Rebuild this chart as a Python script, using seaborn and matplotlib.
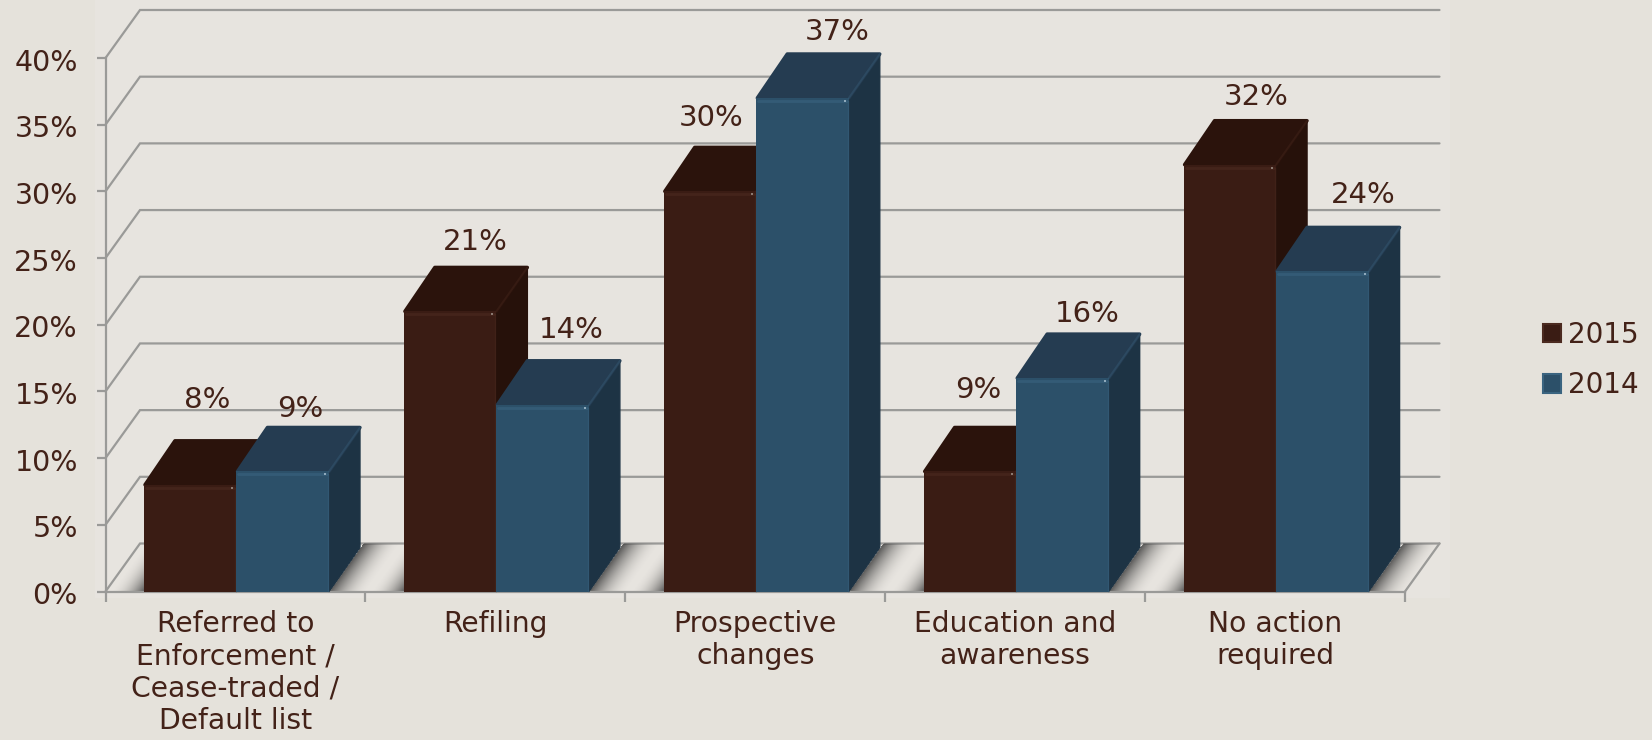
import numpy as np
import pandas as pd
import matplotlib
matplotlib.use("Agg")
import matplotlib.pyplot as plt
from matplotlib.patches import Polygon, Rectangle
from matplotlib.transforms import ScaledTranslation
import seaborn as sns

# Chart content
categories = [
    "Referred to\nEnforcement /\nCease-traded /\nDefault list",
    "Refiling",
    "Prospective\nchanges",
    "Education and\nawareness",
    "No action\nrequired",
]
years = ["2015", "2014"]
share_2015 = [8, 21, 30, 9, 32]
share_2014 = [9, 14, 37, 16, 24]
y_ticks = [0, 5, 10, 15, 20, 25, 30, 35, 40]

# Styling
PAGE = "#E5E2DB"
PANEL = "#E7E4DF"
TEXT = "#432218"
GRID = "#9A9A98"
FRONT = {"2015": "#3A1C14", "2014": "#2C5069"}
SIDE = {"2015": "#26110A", "2014": "#1D3344"}
TOP = {"2015": "#2B130C", "2014": "#253C51"}
EDGE = {"2015": "#4B2A20", "2014": "#3A6480"}
GLINT = {"2015": "#8A7A72", "2014": "#8FAABC"}

W, H = 1652, 740
AX_L, AX_R, AX_T, AX_B = 105.5, 1405.0, 58.0, 591.5
PX_X = (AX_R - AX_L) / 5      # pixels per category
PX_Y = (AX_B - AX_T) / 40     # pixels per percentage point
BAR_DX, BAR_DY = 31 / PX_X, 44 / PX_Y     # depth of a bar
WALL_DX, WALL_DY = 34.5 / PX_X, 48 / PX_Y  # depth of the chart walls
BAR_NUDGE = 1.0 / PX_X        # bars sit slightly right of the category centre

# Offsets of the value labels from the top centre of each bar, in pixels
label_offsets_2015 = [(17, 85), (25, 69), (1, 73), (8, 81), (26, 68)]
label_offsets_2014 = [(18, 62), (29, 75), (35, 66), (25, 64), (41, 76)]

sns.set_theme(style="white")
plt.rcParams["font.family"] = ["DejaVu Sans"]

fig = plt.figure(figsize=(W / 100, H / 100), dpi=100, facecolor=PAGE)
fig.patches.append(Rectangle((95 / W, 1 - 598 / H), 1355 / W, 598 / H,
                             transform=fig.transFigure, facecolor=PANEL,
                             edgecolor="none", zorder=-10))
ax = fig.add_axes([AX_L / W, 1 - AX_B / H, (AX_R - AX_L) / W, (AX_B - AX_T) / H])
ax.patch.set_alpha(0)

table = pd.DataFrame({
    "category": categories * 2,
    "year": [years[0]] * 5 + [years[1]] * 5,
    "share": share_2015 + share_2014,
})
sns.barplot(data=table, x="category", y="share", hue="year", hue_order=years,
            order=categories, palette=FRONT, saturation=1, width=0.712, gap=0,
            linewidth=0, ax=ax)
for container in ax.containers:
    for bar in container:
        bar.set_x(bar.get_x() + BAR_NUDGE)

ax.set_xlim(-0.5, 4.5)
ax.set_ylim(0, 40)
ax.set_xlabel("")
ax.set_ylabel("")

# Wall gridlines: a diagonal up the side wall, then across the back wall
for level in y_ticks:
    ax.plot([-0.5, -0.5 + WALL_DX, 4.5 + WALL_DX],
            [level, level + WALL_DY, level + WALL_DY],
            color=GRID, lw=1.6, clip_on=False, zorder=1,
            solid_joinstyle="miter")
ax.plot([4.5, 4.5 + WALL_DX], [0, WALL_DY], color=GRID, lw=1.6,
        clip_on=False, zorder=1)

# Soft shadow on the floor on both sides of each pair of bars, evaluated on a
# raster whose columns follow the slant of the floor
floor = Polygon([(-0.5, 0), (-0.5 + WALL_DX, WALL_DY),
                 (4.5 + WALL_DX, WALL_DY), (4.5, 0)], closed=True,
                transform=ax.transData, facecolor="none", edgecolor="none")
ax.add_patch(floor)
slope = BAR_DX / BAR_DY
gx = np.linspace(-0.5, 4.5 + WALL_DX, 1340)
gy = np.linspace(0, WALL_DY, 48)
mx, my = np.meshgrid(gx, gy)
along = (mx - my * slope) * PX_X    # horizontal pixels, sheared to the floor
shade = np.zeros_like(mx)
for i in range(5):
    left = ax.containers[0][i].get_x() * PX_X
    right = (ax.containers[1][i].get_x() + ax.containers[1][i].get_width()) * PX_X
    reach_r = np.clip(1 - (along - right) / 38, 0, 1) * (along >= right)
    reach_l = np.clip(1 - (left - along) / 34, 0, 1) * (along <= left)
    shade = np.maximum(shade, 0.82 * reach_r ** 2.0)
    shade = np.maximum(shade, 0.82 * reach_l ** 2.0)
rgba = np.zeros(mx.shape + (4,))
rgba[..., :3] = 0.22
rgba[..., 3] = shade
shadow = ax.imshow(rgba, extent=(gx[0], gx[-1], gy[0], gy[-1]), origin="lower",
                   aspect="auto", interpolation="bilinear", zorder=1.5)
shadow.set_clip_path(floor)
shadow.set_clip_box(fig.bbox)   # the floor runs past the right edge of the axes
ax.set_xlim(-0.5, 4.5)
ax.set_ylim(0, 40)

# Extrude each bar: side and top faces, then the seaborn bar as the front face
for i in range(5):
    for j, year in enumerate(years):
        bar = ax.containers[j][i]
        x0, w, h = bar.get_x(), bar.get_width(), bar.get_height()
        x1 = x0 + w
        z = 3 + (i * 2 + j) * 0.1
        ax.fill([x1, x1 + BAR_DX, x1 + BAR_DX, x1], [0, BAR_DY, h + BAR_DY, h],
                facecolor=SIDE[year], edgecolor=SIDE[year], lw=1,
                joinstyle="round", zorder=z, clip_on=False)
        ax.fill([x0 + 0.004, x0 + BAR_DX, x1 + BAR_DX, x1],
                [h, h + BAR_DY, h + BAR_DY, h],
                facecolor=TOP[year], edgecolor=TOP[year], lw=2.5,
                joinstyle="round", zorder=z + 0.01, clip_on=False)
        bar.set_zorder(z + 0.02)
        # Bevel highlights along the front top edge and the top right ridge
        inset = 3 / PX_Y
        ax.plot([x0 + 2 / PX_X, x1 - 2 / PX_X], [h - inset, h - inset],
                color=EDGE[year], lw=2.0, alpha=0.6, zorder=z + 0.03, clip_on=False)
        ax.plot([x1 - 1 / PX_X, x1 - 1 / PX_X], [0, h - inset],
                color=EDGE[year], lw=1.0, alpha=0.4, zorder=z + 0.03)
        ax.plot([x1, x1 + BAR_DX], [h, h + BAR_DY],
                color=EDGE[year], lw=1.4, alpha=0.35, zorder=z + 0.03, clip_on=False)
        ax.plot([x1 - 4 / PX_X], [h - inset], marker="s", ms=2, mew=0,
                color=GLINT[year], zorder=z + 0.04)

# Value labels
for j, (values, offsets) in enumerate(((share_2015, label_offsets_2015),
                                       (share_2014, label_offsets_2014))):
    for i, value in enumerate(values):
        bar = ax.containers[j][i]
        ax.annotate(f"{value}%", xy=(bar.get_x() + bar.get_width() / 2, value),
                    xytext=offsets[i], textcoords="offset pixels",
                    ha="center", va="center", fontsize=21, color=TEXT,
                    annotation_clip=False, zorder=10)

# Axes, ticks and labels
for name in ("top", "right"):
    ax.spines[name].set_visible(False)
for name in ("left", "bottom"):
    ax.spines[name].set_color(GRID)
    ax.spines[name].set_linewidth(1.6)
    ax.spines[name].set_zorder(2)

ax.set_yticks(y_ticks, labels=[f"{t}%" for t in y_ticks])
ax.set_xticks(np.arange(6) - 0.5, labels=[""] * 6)
ax.set_xticks(np.arange(5), labels=categories, minor=True)
ax.tick_params(axis="y", length=6.8, width=1.6, color=GRID, pad=13,
               labelsize=20.5, labelcolor=TEXT, left=True)
ax.tick_params(axis="x", which="major", length=7.5, width=1.6, color=GRID, bottom=True)
ax.tick_params(axis="x", which="minor", length=0, pad=13, labelsize=20.3,
               labelcolor=TEXT)
for label in ax.get_xticklabels(minor=True):
    label.set_linespacing(1.21)
for label in ax.get_yticklabels():
    label.set_transform(label.get_transform()
                        + ScaledTranslation(0, -1.2 / 72, fig.dpi_scale_trans))

sns.move_legend(ax, loc="center left", bbox_to_anchor=(1543 / W, 1 - 360 / H),
                bbox_transform=fig.transFigure, frameon=False, title=None,
                fontsize=20, handlelength=0.65, handleheight=0.65,
                handletextpad=0.26, labelspacing=0.82, borderpad=0, borderaxespad=0)
legend = ax.get_legend()
for text in legend.get_texts():
    text.set_color(TEXT)
for handle, year in zip(legend.legend_handles, years):
    handle.set_edgecolor(EDGE[year])
    handle.set_linewidth(1.5)

fig.savefig("out.png", dpi=100, facecolor=PAGE)
